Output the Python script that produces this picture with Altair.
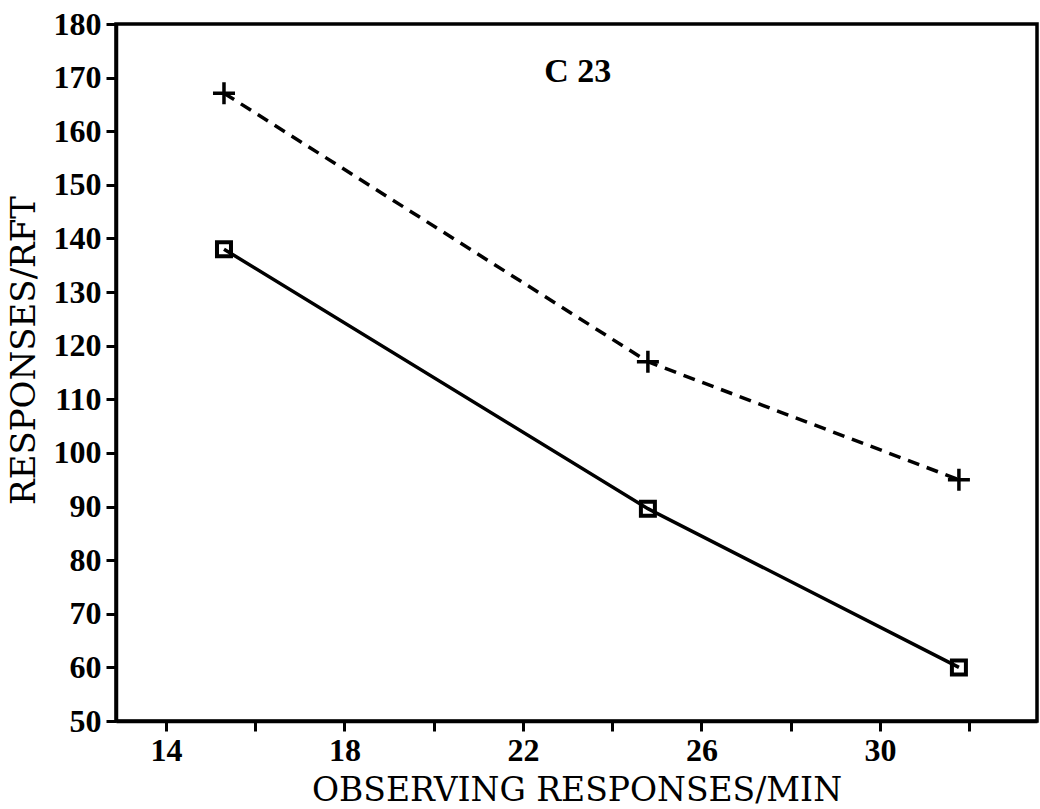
import altair as alt
import pandas as pd

# Data
x_vals = [15.3, 24.8, 31.77]
y_square = [138.0, 89.6, 60.0]   # solid line, open squares
y_plus = [167.1, 117.0, 95.0]    # dashed line, plus markers

x_ticks = [14, 16, 18, 20, 22, 24, 26, 28, 30, 32]
x_labels = [14, 18, 22, 26, 30]
y_ticks = [50, 60, 70, 80, 90, 100, 110, 120, 130, 140, 150, 160, 170, 180]

label_text = ["C 23"]
label_x = [23.23]
label_y = [171.0]

df_sq = pd.DataFrame({"x": x_vals, "y": y_square})
df_pl = pd.DataFrame({"x": x_vals, "y": y_plus})
df_lab = pd.DataFrame({"x": label_x, "y": label_y, "t": label_text})

xscale = alt.Scale(domain=[12.88, 33.52], nice=False, zero=False)
yscale = alt.Scale(domain=[50, 180], nice=False, zero=False)

lab_expr = "indexof([" + ",".join(str(v) for v in x_labels) + "], datum.value) >= 0 ? datum.label : ''"

xenc = alt.X("x:Q", scale=xscale, axis=alt.Axis(
    values=x_ticks, labelExpr=lab_expr, title="OBSERVING RESPONSES/MIN",
    grid=False, tickSize=10, tickWidth=3, domainWidth=3.5, domainColor="black",
    tickColor="black", labelFont="Liberation Serif", labelFontWeight="bold",
    labelFontSize=32, labelColor="black", labelPadding=4, labelFlush=False,
    titleFont="DejaVu Serif", titleFontWeight="normal", titleFontSize=33,
    titleColor="black", titlePadding=8))
yenc = alt.Y("y:Q", scale=yscale, axis=alt.Axis(
    values=y_ticks, title="RESPONSES/RFT",
    grid=False, tickSize=10, tickWidth=3, domainWidth=3.5, domainColor="black",
    tickColor="black", labelFont="Liberation Serif", labelFontWeight="bold",
    labelFontSize=32, labelColor="black", labelPadding=5, labelFlush=False,
    titleFont="DejaVu Serif", titleFontWeight="normal", titleFontSize=34,
    titleColor="black", titlePadding=12, titleY=326))

solid = alt.Chart(df_sq).mark_line(color="black", strokeWidth=3.5).encode(x=xenc, y=yenc)
squares = alt.Chart(df_sq).mark_point(shape="square", size=196, filled=False,
                                      color="black", strokeWidth=4, opacity=1).encode(x="x:Q", y="y:Q")
dashed = alt.Chart(df_pl).mark_line(color="black", strokeWidth=3.5, strokeDash=[12, 8]).encode(x="x:Q", y="y:Q")
pluses = alt.Chart(df_pl).mark_point(shape="M-1,0H1M0,-1V1", size=484, filled=False,
                                     color="black", strokeWidth=3.5, opacity=1).encode(x="x:Q", y="y:Q")
label = alt.Chart(df_lab).mark_text(font="Liberation Serif", fontWeight="bold", fontSize=34,
                                    color="black", baseline="middle", align="center").encode(
    x="x:Q", y="y:Q", text="t:N")

chart = alt.layer(solid, dashed, squares, pluses, label).properties(
    width=921, height=697,
    autosize=alt.AutoSizeParams(type="none"),
    padding={"left": 116, "top": 24, "right": 3, "bottom": 88},
    background="white",
).configure_view(stroke="black", strokeWidth=3.5)

chart.save("out.html", embed_options={"renderer": "svg", "actions": False})
